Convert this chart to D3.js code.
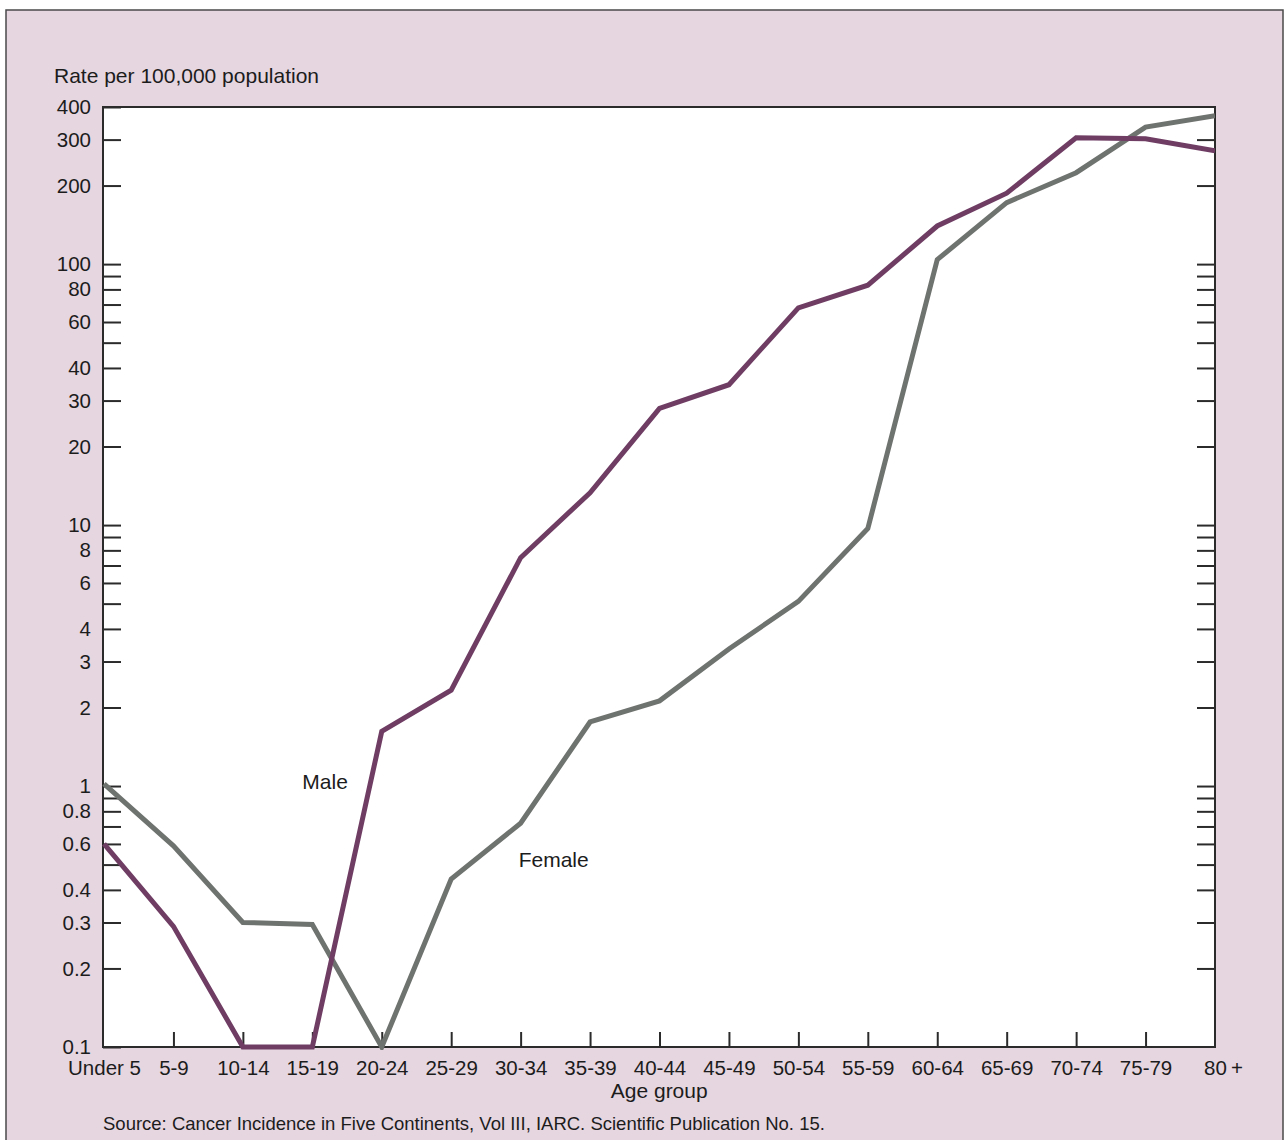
<!DOCTYPE html>
<html>
<head>
<meta charset="utf-8">
<script src="https://cdn.jsdelivr.net/npm/d3@7/dist/d3.min.js"></script>
<style>
  html, body { margin: 0; padding: 0; background: #ffffff; }
  svg { display: block; font-family: "Liberation Sans", Arial, Helvetica, sans-serif; }
</style>
</head>
<body>
<svg id="chart" width="1285" height="1140"></svg>
<script>
// ---- data ----
const ageGroups = ["Under 5","5-9","10-14","15-19","20-24","25-29","30-34","35-39","40-44","45-49","50-54","55-59","60-64","65-69","70-74","75-79","80+"];
const ageLabels = ["Under 5","5-9","10-14","15-19","20-24","25-29","30-34","35-39","40-44","45-49","50-54","55-59","60-64","65-69","70-74","75-79","80\u2009+"];
const maleRates   = [0.6, 0.29, 0.1, 0.1, 1.62, 2.33, 7.5, 13.3, 28, 34.5, 68, 83, 140, 187, 305, 302, 272];
const femaleRates = [1.02, 0.59, 0.30, 0.295, 0.1, 0.44, 0.72, 1.76, 2.12, 3.35, 5.1, 9.7, 104, 172, 224, 335, 370];
const yTickValues = [0.1,0.2,0.3,0.4,0.5,0.6,0.7,0.8,0.9,1,2,3,4,5,6,7,8,9,10,20,30,40,50,60,70,80,90,100,200,300,400];
const yTickLabels = ["0.1","0.2","0.3","0.4","0.6","0.8","1","2","3","4","6","8","10","20","30","40","60","80","100","200","300","400"];
const yAxisTitle = "Rate per 100,000 population";
const xAxisTitle = "Age group";
const sourceNote = "Source: Cancer Incidence in Five Continents, Vol III, IARC. Scientific Publication No. 15.";

// ---- layout ----
const svg = d3.select("#chart");
const plot = { left: 103, right: 1215, top: 107, bottom: 1047 };
const pink = "#e6d6e0";
const ink = "#2b2b2b";
const textInk = "#1c1c1c";
const maleColor = "#6f3d64";
const femaleColor = "#6f736f";

// outer panel
svg.append("rect")
  .attr("x", 6).attr("y", 10).attr("width", 1277).attr("height", 1140)
  .attr("fill", pink).attr("stroke", "#4a4a4a").attr("stroke-width", 1.5);

// plot area
svg.append("rect")
  .attr("x", plot.left).attr("y", plot.top)
  .attr("width", plot.right - plot.left).attr("height", plot.bottom - plot.top)
  .attr("fill", "#ffffff");

const x = d3.scalePoint().domain(ageGroups).range([plot.left + 1, plot.right]);
const y = d3.scaleLog().domain([0.1, 400]).range([plot.bottom, plot.top]);

const labelSet = new Set(yTickLabels);
const fmtY = v => {
  const s = String(+v.toPrecision(3));
  return labelSet.has(s) ? s : "";
};

// left axis (ticks pointing inward)
const gL = svg.append("g").attr("transform", `translate(${plot.left},0)`)
  .call(d3.axisLeft(y).tickValues(yTickValues).tickFormat(fmtY).tickSizeInner(-18).tickSizeOuter(0).tickPadding(12));
// right axis (ticks inward)
const gR = svg.append("g").attr("transform", `translate(${plot.right},0)`)
  .call(d3.axisRight(y).tickValues(yTickValues.filter(v => v > 0.1 && v < 400)).tickFormat("").tickSizeInner(-18).tickSizeOuter(0));
// bottom axis (ticks pointing up)
const labelByGroup = new Map(ageGroups.map((g, i) => [g, ageLabels[i]]));
const gB = svg.append("g").attr("transform", `translate(0,${plot.bottom})`)
  .call(d3.axisBottom(x).tickFormat(d => labelByGroup.get(d)).tickSizeInner(-15).tickSizeOuter(0).tickPadding(13));

[gL, gR, gB].forEach(g => {
  g.select(".domain").remove();
  g.selectAll(".tick line").attr("stroke", ink).attr("stroke-width", 2);
  g.selectAll(".tick text").attr("fill", textInk).style("font-size", "20.5px");
});
gB.selectAll(".tick line").filter((d, i) => i === 0 || i === ageGroups.length - 1).remove();
gB.selectAll(".tick text").filter(d => d === "80+").attr("dx", 8);

// plot border
svg.append("rect")
  .attr("x", plot.left).attr("y", plot.top)
  .attr("width", plot.right - plot.left).attr("height", plot.bottom - plot.top)
  .attr("fill", "none").attr("stroke", ink).attr("stroke-width", 2);

// lines
const line = d3.line().x((d, i) => x(ageGroups[i])).y(d => y(d));
svg.append("clipPath").attr("id", "clip").append("rect")
  .attr("x", plot.left - 4).attr("y", plot.top).attr("width", plot.right - plot.left + 4).attr("height", plot.bottom - plot.top + 3);

svg.append("path").datum(femaleRates).attr("d", line)
  .attr("fill", "none").attr("stroke", femaleColor).attr("stroke-width", 5).attr("stroke-linejoin", "miter")
  .attr("clip-path", "url(#clip)");
svg.append("path").datum(maleRates).attr("d", line)
  .attr("fill", "none").attr("stroke", maleColor).attr("stroke-width", 5).attr("stroke-linejoin", "miter")
  .attr("clip-path", "url(#clip)");

// series labels
svg.append("text").attr("x", x("15-19") - 10).attr("y", y(1) - 3)
  .attr("font-size", 21).attr("fill", textInk).attr("dominant-baseline", "middle").text("Male");
svg.append("text").attr("x", x("30-34") - 2).attr("y", y(0.515))
  .attr("font-size", 21).attr("fill", textInk).attr("dominant-baseline", "middle").text("Female");

// titles
svg.append("text").attr("x", 54).attr("y", 83)
  .attr("font-size", 21).attr("fill", textInk).text(yAxisTitle);
svg.append("text").attr("x", (x("40-44") + x("45-49")) / 2 - 35).attr("y", 1098)
  .attr("text-anchor", "middle").attr("font-size", 21).attr("fill", textInk).text(xAxisTitle);
svg.append("text").attr("x", 103).attr("y", 1130)
  .attr("font-size", 18.5).attr("fill", textInk).text(sourceNote);
</script>
</body>
</html>
